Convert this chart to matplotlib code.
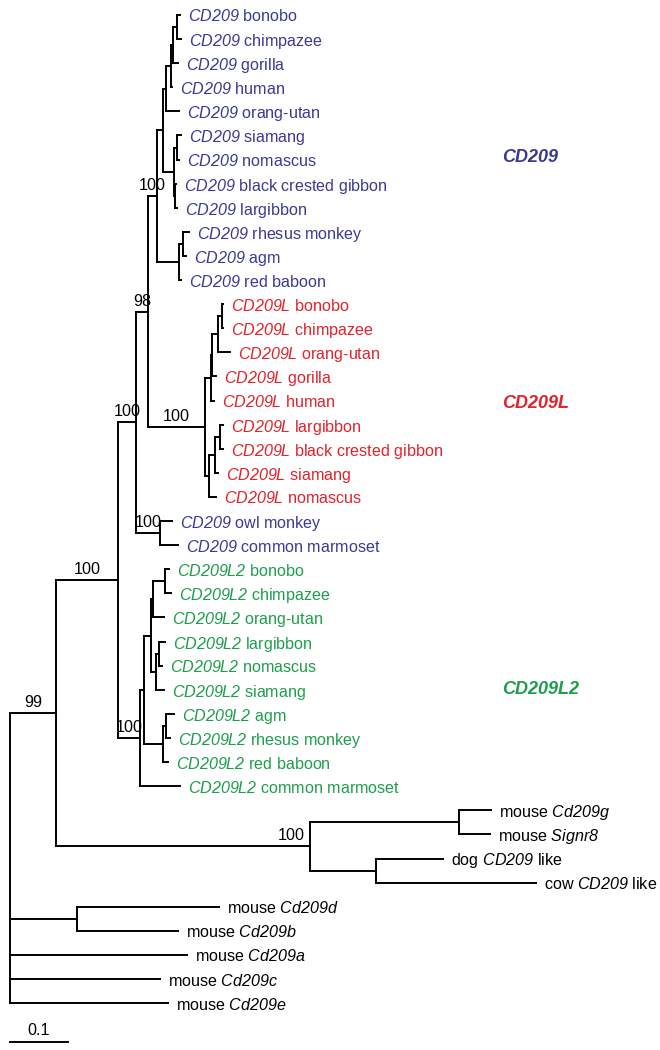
import matplotlib
matplotlib.use('Agg')
import matplotlib.pyplot as plt

plt.rcParams['font.family'] = 'Liberation Sans'
# курсив для названий генов: всё внутри $...$ рисуется наклонным шрифтом
plt.rcParams['mathtext.fontset'] = 'custom'
plt.rcParams['mathtext.rm'] = 'Liberation Sans:italic'
plt.rcParams['mathtext.it'] = 'Liberation Sans:italic'
plt.rcParams['mathtext.bf'] = 'Liberation Sans:bold'

# поддеревья в формате Newick (длины ветвей в заменах на сайт, метки узлов = бутстрэп)
cd209_apes = ("(((('CD209 bonobo':0.005,'CD209 chimpazee':0.007):0.007,'CD209 gorilla':0.009):0.003,"
              "'CD209 human':0.002):0.009,'CD209 orang-utan':0.022):0.005")
cd209_gibbons = ("(('CD209 siamang':0.007,'CD209 nomascus':0.003):0.005,"
                 "('CD209 black crested gibbon':0.002,'CD209 largibbon':0.003):0.002):0.019")
cd209_owm = "(('CD209 rhesus monkey':0.009,'CD209 agm':0.005):0.007,'CD209 red baboon':0.002):0.038"
cd209_nwm = "('CD209 owl monkey':0.021,'CD209 common marmoset':0.031)100:0.041"

cd209l_apes = ("(((('CD209L bonobo':0.003,'CD209L chimpazee':0.003):0.007,'CD209L orang-utan':0.022):0.009,"
               "'CD209L gorilla':0.007):0.003,'CD209L human':0.005):0.010")
cd209l_gibbons = ("((('CD209L largibbon':0.005,'CD209L black crested gibbon':0.005):0.009,"
                  "'CD209L siamang':0.005):0.010,'CD209L nomascus':0.012):0.007")

cd209l2_apes = ("((('CD209L2 bonobo':0.007,'CD209L2 chimpazee':0.010):0.021,'CD209L2 orang-utan':0.019):0.003,"
                "(('CD209L2 largibbon':0.010,'CD209L2 nomascus':0.005):0.005,'CD209L2 siamang':0.014):0.009):0.012")
cd209l2_owm = "(('CD209L2 agm':0.014,'CD209L2 rhesus monkey':0.007):0.005,'CD209L2 red baboon':0.009):0.033"

others = ("(('mouse Cd209g':0.055,'mouse Signr8':0.053):0.257,"
          "('dog CD209 like':0.116,'cow CD209 like':0.276):0.114)100:0.438")
mouse_rest = "('mouse Cd209d':0.245,'mouse Cd209b':0.174):0.116,'mouse Cd209a':0.305,'mouse Cd209c':0.259,'mouse Cd209e':0.272"

cd209 = "((" + cd209_apes + "," + cd209_gibbons + "):0.010," + cd209_owm + ")100:0.016"
cd209l = "(" + cd209l_apes + "," + cd209l_gibbons + ")100:0.098"
cd209l2 = "((" + cd209l2_apes + "," + cd209l2_owm + "):0.007,'CD209L2 common marmoset':0.069)100:0.038"
primates = "(((" + cd209 + "," + cd209l + ")98:0.021," + cd209_nwm + ")100:0.031," + cd209l2 + ")100:0.107"
tree_str = "((" + primates + "," + others + ")99:0.079," + mouse_rest + ");"

group_colors = {'CD209': '#3a3a96', 'CD209L': '#e3222a', 'CD209L2': '#1d9e4b'}
italic_names = ('CD209', 'Cd209', 'Signr8')
clade_titles = ['CD209', 'CD209L', 'CD209L2']
clade_rows = [5.9, 16.1, 28.0]


def parse(s):
    pos = 0

    def node():
        nonlocal pos
        n = {'children': [], 'name': '', 'len': 0.0}
        if s[pos] == '(':
            pos += 1
            while True:
                n['children'].append(node())
                if s[pos] == ',':
                    pos += 1
                else:
                    break
            pos += 1
        if s[pos] == "'":
            end = s.index("'", pos + 1)
            n['name'] = s[pos + 1:end]
            pos = end + 1
        else:
            start = pos
            while s[pos] not in ':,);':
                pos += 1
            n['name'] = s[start:pos]
        if s[pos] == ':':
            pos += 1
            start = pos
            while s[pos] not in ',);':
                pos += 1
            n['len'] = float(s[start:pos])
        return n

    return node()


leaves = []


def layout(n, x0):
    n['x0'] = x0
    n['x'] = x0 + n['len']
    if n['children']:
        for c in n['children']:
            layout(c, n['x'])
        n['y'] = (n['children'][0]['y'] + n['children'][-1]['y']) / 2
    else:
        n['y'] = len(leaves)
        leaves.append(n)


root = parse(tree_str)
layout(root, 0.0)

fig = plt.figure(figsize=(6.6, 10.5), dpi=100)
ax = fig.add_axes([0, 0, 1, 1])
px = 1 / 580  # один пиксель в единицах длины ветви
row = 24.1    # пикселей на строку
ax.set_xlim(-10 * px, 650 * px)
ax.set_ylim((1050 - 15) / row, -15 / row)
ax.axis('off')

fs = 11.6
kw = dict(color='black', lw=1.4, solid_capstyle='projecting')


def label_text(name):
    parts = []
    for t in name.split(' '):
        if t.startswith(italic_names):
            parts.append('$' + t + '$')
        else:
            parts.append(t)
    return ' '.join(parts)


def draw(n, is_root=False):
    if not is_root:
        ax.plot([n['x0'], n['x']], [n['y'], n['y']], **kw)
    if n['children']:
        ax.plot([n['x'], n['x']], [n['children'][0]['y'], n['children'][-1]['y']], **kw)
        for c in n['children']:
            draw(c)
        if n['name']:
            if n['len'] > 0.2:
                bx, ha = n['x'] - 5 * px, 'right'
            else:
                bx, ha = (n['x0'] + n['x']) / 2, 'center'
            ax.text(bx, n['y'] - 0.25, n['name'], ha=ha, va='baseline', fontsize=fs)
    else:
        color = group_colors.get(n['name'].split(' ')[0], 'black')
        ax.text(n['x'] + 8 * px, n['y'], label_text(n['name']), color=color,
                ha='left', va='center_baseline', fontsize=fs)


draw(root, is_root=True)

for title, r in zip(clade_titles, clade_rows):
    ax.text(492 * px, r, title, color=group_colors[title], fontsize=13,
            fontweight='bold', fontstyle='italic', ha='left', va='center')

# шкала
sb = (1042 - 15) / row
ax.plot([0, 0.1], [sb, sb], **kw)
ax.text(0.05, sb - 0.3, '0.1', ha='center', va='baseline', fontsize=fs)

fig.savefig('out.png', dpi=100)
